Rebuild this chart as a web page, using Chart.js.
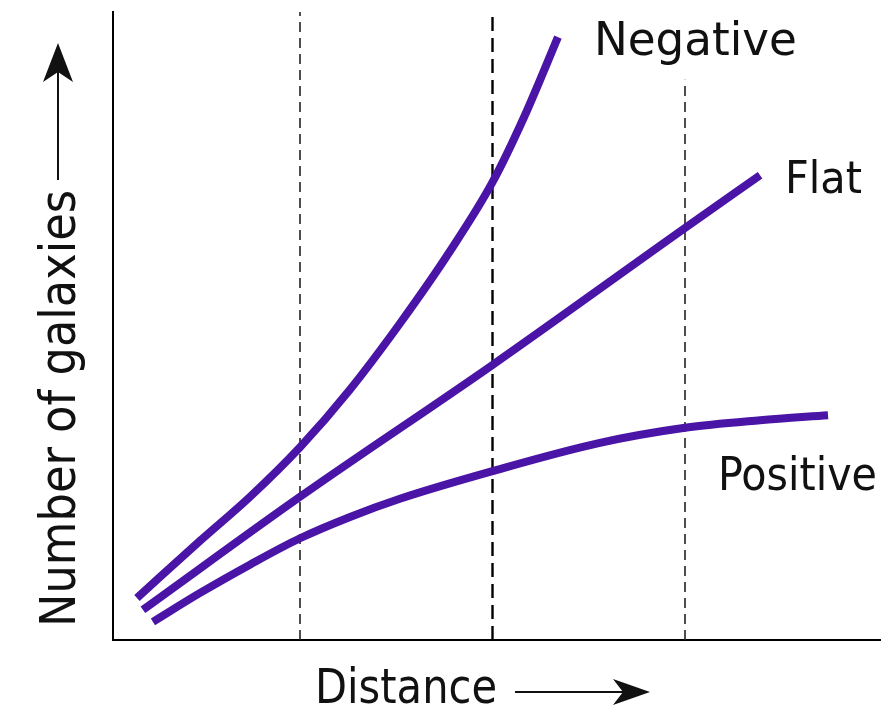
<!DOCTYPE html>
<html><head><meta charset="utf-8">
<script src="https://cdn.jsdelivr.net/npm/chart.js@4.4.0/dist/chart.umd.min.js"></script>
<style>html,body{margin:0;padding:0;background:#fff;}canvas{display:block;}</style>
</head><body>
<canvas id="c" width="887" height="709"></canvas>
<script>
// ---- data ----
const seriesNames = ['Negative', 'Flat', 'Positive'];
const negativeX = [0.153, 0.481, 0.740, 1.0, 1.260, 1.519, 1.779, 2.0, 2.166, 2.340];
const negativeY = [6.7, 15.8, 22.8, 30.7, 39.9, 50.4, 61.9, 72.9, 83.4, 96.0];
const flatX = [0.184, 1.0, 2.0, 3.0, 3.390];
const flatY = [4.8, 22.8, 43.8, 65.6, 74.0];
const positiveX = [0.236, 0.481, 0.740, 1.0, 1.260, 1.519, 2.0, 2.558, 3.0, 3.390, 3.743];
const positiveY = [2.9, 7.5, 12.0, 16.2, 19.6, 22.5, 26.9, 31.4, 33.8, 35.0, 35.8];
const markerX = [1, 2, 3];
const markerTop = [100, 100, 89.2];
const xTitle = 'Distance';
const yTitle = 'Number of galaxies';
// label anchors in data space (left, baseline)
const labelX = [2.527, 3.519, 3.171];
const labelY = [93.2, 71.2, 23.9];

const X_MIN = 0.0286, X_MAX = 4.013, Y_MIN = 0, Y_MAX = 100;
const curveColor = '#4a14a6';

function pts(xs, ys) { return xs.map((x, i) => ({x: x, y: ys[i]})); }

const curveData = [pts(negativeX, negativeY), pts(flatX, flatY), pts(positiveX, positiveY)];
const datasets = [];
curveData.forEach((d, i) => datasets.push({
  label: seriesNames[i], data: d, borderColor: curveColor, borderWidth: 8,
  borderCapStyle: 'butt', cubicInterpolationMode: 'monotone', pointRadius: 0, order: 0
}));
markerX.forEach((x, i) => datasets.push({
  label: 'marker' + i, data: [{x: x, y: Y_MIN}, {x: x, y: markerTop[i]}],
  borderColor: i === 1 ? '#000' : '#222', borderWidth: i === 1 ? 2.4 : 1.6,
  borderDash: i === 1 ? [14, 7] : [10, 6], pointRadius: 0, order: 1
}));

function fitText(ctx, text, x, y, size, width, rot) {
  ctx.save();
  ctx.translate(x, y);
  if (rot) ctx.rotate(rot);
  ctx.font = size + 'px "DejaVu Sans"';
  ctx.textAlign = 'left';
  ctx.textBaseline = 'alphabetic';
  const w = ctx.measureText(text).width;
  ctx.scale(width / w, 1);
  ctx.fillStyle = '#111';
  ctx.fillText(text, 0, 0);
  ctx.restore();
}

const annot = {
  id: 'annot',
  afterDraw(chart) {
    const ctx = chart.ctx, xs = chart.scales.x, ys = chart.scales.y, a = chart.chartArea;
    const sizes = [46, 45, 47];
    const widths = [203, 77, 159];
    seriesNames.forEach((n, i) => {
      fitText(ctx, n, xs.getPixelForValue(labelX[i]), ys.getPixelForValue(labelY[i]), sizes[i], widths[i]);
    });
    // x title + arrow
    fitText(ctx, xTitle, a.left + 202, a.bottom + 63, 48, 182);
    ctx.save();
    ctx.strokeStyle = '#111'; ctx.fillStyle = '#111'; ctx.lineWidth = 2;
    const ay = a.bottom + 52;
    ctx.beginPath(); ctx.moveTo(a.left + 402, ay); ctx.lineTo(a.left + 515, ay); ctx.stroke();
    ctx.beginPath();
    ctx.moveTo(a.left + 537, ay);
    ctx.lineTo(a.left + 500, ay - 13);
    ctx.lineTo(a.left + 510, ay);
    ctx.lineTo(a.left + 500, ay + 13);
    ctx.closePath(); ctx.fill();
    // y title + arrow
    fitText(ctx, yTitle, a.left - 38, a.bottom - 13, 50, 437, -Math.PI / 2);
    const ax = a.left - 55;
    ctx.beginPath(); ctx.moveTo(ax, a.top + 168); ctx.lineTo(ax, a.top + 55); ctx.stroke();
    ctx.beginPath();
    ctx.moveTo(ax, a.top + 31);
    ctx.lineTo(ax - 15, a.top + 70);
    ctx.lineTo(ax, a.top + 60);
    ctx.lineTo(ax + 15, a.top + 70);
    ctx.closePath(); ctx.fill();
    ctx.restore();
  }
};

new Chart(document.getElementById('c'), {
  type: 'line',
  data: {datasets: datasets},
  options: {
    responsive: false, animation: false,
    layout: {padding: {left: 105, right: 7, top: 12, bottom: 61}},
    plugins: {legend: {display: false}, tooltip: {enabled: false}},
    scales: {
      x: {type: 'linear', min: X_MIN, max: X_MAX,
          ticks: {display: false}, grid: {display: false},
          border: {display: true, color: '#000', width: 2}},
      y: {type: 'linear', min: Y_MIN, max: Y_MAX,
          ticks: {display: false}, grid: {display: false},
          border: {display: true, color: '#000', width: 2}}
    }
  },
  plugins: [annot]
});
</script>
</body></html>
